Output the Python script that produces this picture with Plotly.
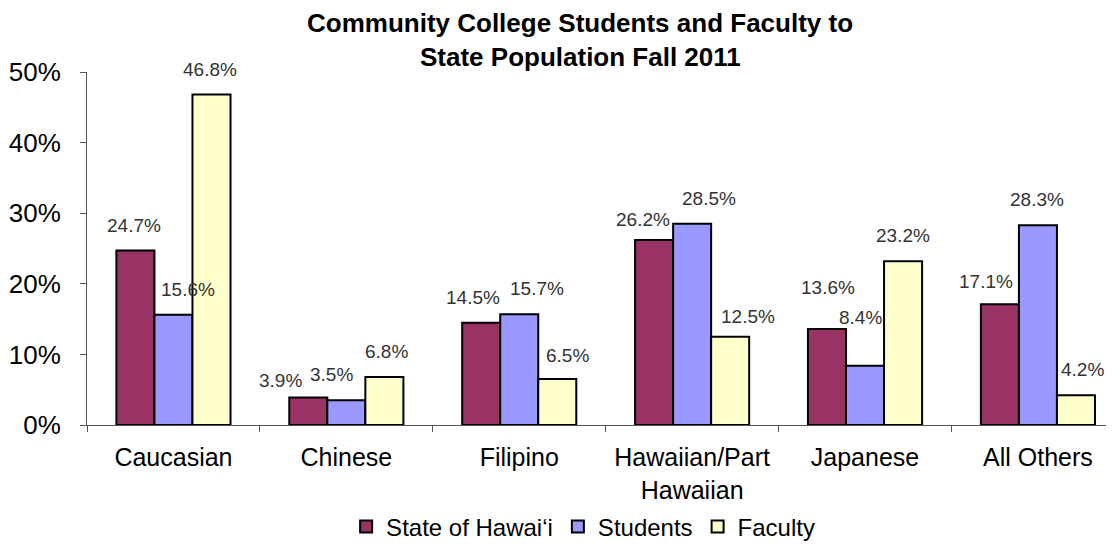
import plotly.graph_objects as go

# datos
categorias = ['Caucasian', 'Chinese', 'Filipino', 'Hawaiian/Part<br>Hawaiian', 'Japanese', 'All Others']
estado = [24.7, 3.9, 14.5, 26.2, 13.6, 17.1]
estudiantes = [15.6, 3.5, 15.7, 28.5, 8.4, 28.3]
facultad = [46.8, 6.8, 6.5, 12.5, 23.2, 4.2]

series = [
    ('State of Hawai\u2018i', estado, '#993366'),
    ('Students', estudiantes, '#9999FF'),
    ('Faculty', facultad, '#FFFFCC'),
]

# pequeños desplazamientos (px) de las etiquetas como en el original, (dx, dy) por serie
ajustes = [
    [(-1, 0), (-28, -9), (-8, 0), (-11, -5), (1, 16), (-14, -3)],
    [(15, 0), (-15, 0), (18, 0), (17, 0), (-5, 23), (-1, 0)],
    [(-1, 0), (2, 0), (10, -2), (18, -5), (0, 0), (7, 0)],
]

# la pagina tiene 8px de margen en el body, se descuentan aqui
ancho, alto = 1106, 536
m_izq, m_der, m_sup, m_inf = 79, 0, 64, 119
rango_x = [-0.5, 5.44]
gap = 0.34

ancho_plot = ancho - m_izq - m_der
alto_plot = alto - m_sup - m_inf
px_por_cat = ancho_plot / (rango_x[1] - rango_x[0])
ancho_barra = px_por_cat * (1 - gap) / len(series)

fig = go.Figure()

for i, (nombre, valores, color) in enumerate(series):
    fig.add_trace(
        go.Bar(
            x=categorias,
            y=[v / 100 for v in valores],
            name=nombre,
            marker=dict(color=color, line=dict(color='black', width=2)),
        )
    )
    # etiquetas de datos encima de cada barra
    for cat, v, (dx, dy) in zip(categorias, valores, ajustes[i]):
        fig.add_annotation(
            x=cat, y=v / 100,
            text='%.1f%%' % v,
            showarrow=False,
            xshift=(i - 1) * ancho_barra + dx,
            yshift=13 + dy,
            yanchor='bottom',
            font=dict(size=19, color='#333333'),
        )

# titulo (dos lineas)
lineas_titulo = ['Community College Students and Faculty to', 'State Population Fall 2011']
for k, linea in enumerate(lineas_titulo):
    fig.add_annotation(
        text='<b>' + linea + '</b>',
        xref='paper', yref='paper',
        x=(572 - m_izq) / ancho_plot, xanchor='center',
        y=1 + (m_sup - 15 - 34 * k) / alto_plot, yanchor='middle',
        showarrow=False,
        font=dict(size=26, color='black'),
    )

# Crear Layout
fig.update_layout(
    width=ancho,
    height=alto,
    barmode='group',
    bargap=gap,
    bargroupgap=0,
    plot_bgcolor='white',
    paper_bgcolor='white',
    font=dict(family='Liberation Sans, Arial, sans-serif', color='black'),
    margin=dict(l=m_izq, r=m_der, t=m_sup, b=m_inf, autoexpand=False),
    legend=dict(
        orientation='h', xref='container', yref='container',
        x=0.52, xanchor='center', y=(544 - 527) / alto, yanchor='middle',
        font=dict(size=24), itemwidth=30,
    ),
    showlegend=True,
)

fig.update_xaxes(
    range=rango_x,
    automargin=False,
    showline=True, linecolor='#555555', linewidth=1,
    ticks='outside', tickson='boundaries', ticklen=6, tickcolor='#555555',
    ticklabelstandoff=10,
    tickfont=dict(size=25),
)
fig.update_yaxes(
    range=[0, 0.5],
    automargin=False,
    tickvals=[0, 0.1, 0.2, 0.3, 0.4, 0.5],
    tickformat='.0%',
    showgrid=False, zeroline=False,
    showline=True, linecolor='#555555', linewidth=1,
    ticks='outside', ticklen=6, tickcolor='#555555',
    ticklabelstandoff=14,
    tickfont=dict(size=26),
)

fig.write_html('out.html')
